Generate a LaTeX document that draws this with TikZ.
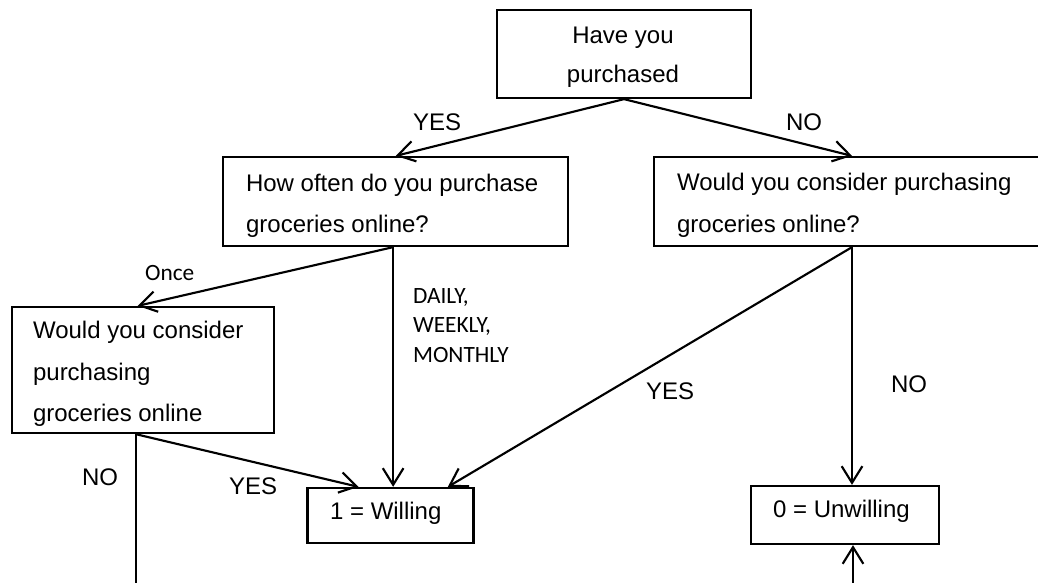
\documentclass[tikz,border=0pt]{standalone}
\usepackage{fontspec}
\setmainfont{Liberation Sans}
\newfontfamily\calib{Carlito}
\usetikzlibrary{arrows.meta}
\begin{document}
\begin{tikzpicture}[x=0.75pt,y=-0.75pt,
  line width=1.6pt,
  frame/.style={draw, line width=1.7pt, inner sep=0pt},
  txt/.style={inner sep=0pt, anchor=base west, font=\fontsize{18}{21}\selectfont},
  lbl/.style={inner sep=0pt, anchor=base west, font=\fontsize{18}{21}\selectfont},
  small/.style={inner sep=0pt, anchor=base west, align=left, font=\calib\fontsize{17.5}{22.1}\selectfont},
  arr/.style={-{Straight Barb[length=12.5pt,width=15.5pt,line width=1.6pt]}}]
\useasboundingbox (0,0) rectangle (1038,582);
\clip (0,0) rectangle (1038,582);

% question and outcome frames
\node[frame, minimum width=190.5pt, minimum height=66pt]   (top)    at (624,54)    {};
\node[frame, minimum width=258.75pt, minimum height=66.75pt] (often) at (395.8,201.5) {};
\node[frame, minimum width=297pt, minimum height=66.75pt]  (consR)  at (852,201.5) {};
\node[frame, minimum width=196.5pt, minimum height=94.5pt] (consL)  at (143,370)   {};
\node[frame, minimum width=124.5pt, minimum height=41.25pt] (willing) at (390.5,515.5) {};
\node[frame, minimum width=141pt, minimum height=43.5pt]   (unwill) at (845,515)   {};

% texts inside the frames (cut off by the frame's inner margin)
\node[txt, anchor=base] (topT1) at (623,43) {Have you};
\node[txt, anchor=base] (topT2) at (623,82) {purchased};
\begin{scope}
  \clip (often.north west) rectangle ([yshift=-8.25pt]often.south east);
  \node[txt] (oftenT1) at (245,191) {How often do you purchase};
  \node[txt] (oftenT2) at (245,232) {groceries online?};
\end{scope}
\begin{scope}
  \clip (consR.north west) rectangle ([yshift=-8.25pt]consR.south east);
  \node[txt] (consRT1) at (676,190) {Would you consider purchasing};
  \node[txt] (consRT2) at (676,232) {groceries online?};
\end{scope}
\begin{scope}
  \clip (consL.north west) rectangle ([yshift=-7.5pt]consL.south east);
  \node[txt] (consLT1) at (32,338) {Would you consider};
  \node[txt] (consLT2) at (32,380) {purchasing};
  \node[txt] (consLT3) at (32,421) {groceries online};
\end{scope}
\node[txt] (willingT) at (329,519) {1 = Willing};
\node[txt] (unwillT)  at (772,517) {0 = Unwilling};

% connectors
\draw[arr] (top.south) -- (often.north);
\draw[arr] (top.south) -- (consR.north);
\draw[arr] ([xshift=-2pt]often.south) -- ([xshift=-4pt]consL.north);
\draw[arr] ([xshift=-2pt]often.south) -- ([xshift=-2pt]often.south |- willing.north);
\draw[arr] ([xshift=-5.5pt]consL.south) -- ([xshift=-24pt]willing.north);
\draw ([xshift=-5.5pt]consL.south) -- ([xshift=-5.5pt]consL.south |- 0,600);
\draw[arr] (consR.south) -- ([xshift=43pt]willing.north);
\draw[arr] (consR.south) -- (consR.south |- unwill.north);
\coordinate (feed) at (853,600);
\draw[arr] (feed) -- (feed |- unwill.south);

% branch labels (the three-line label sits on its last baseline)
\node[lbl] (yesTop) at (412,130) {YES};
\node[lbl] (noTop)  at (785,130) {NO};
\node[small] (once) at (144,280) {Once};
\node[small] (freq) at (412,362) {DAILY,\\WEEKLY,\\MONTHLY};
\node[lbl] (yesR) at (645,399) {YES};
\node[lbl] (noR)  at (890,392) {NO};
\node[lbl] (noL)  at (81,485)  {NO};
\node[lbl] (yesL) at (228,494) {YES};
\end{tikzpicture}
\end{document}
